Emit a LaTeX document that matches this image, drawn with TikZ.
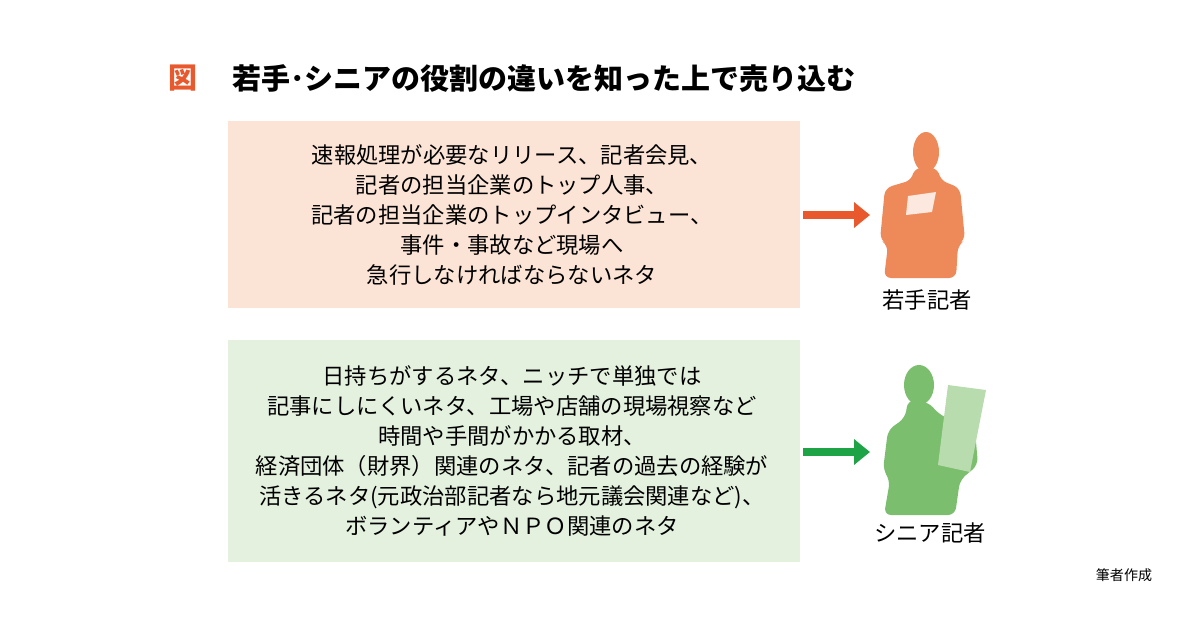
\documentclass[tikz,border=0pt]{standalone}
\usepackage{fontspec}
\setmainfont{Noto Sans CJK JP}
\begin{document}
\begin{tikzpicture}[x=0.02cm,y=-0.02cm,
  txt/.style={font=\fontsize{12.7}{15}\selectfont,align=center},
  arr/.style={line width=5pt,-{Triangle[length=9pt,width=14pt]}}]
\usetikzlibrary{arrows.meta}
\useasboundingbox (0,0) rectangle (1200,630);
\definecolor{peach}{HTML}{FBE3D5}\definecolor{mint}{HTML}{E3F1DE}
\definecolor{ored}{HTML}{E85A2E}\definecolor{gr}{HTML}{1FA347}
\definecolor{po}{HTML}{EE8A5A}\definecolor{pg}{HTML}{7BBE6E}\definecolor{pgl}{HTML}{B9DCAF}
\node[font=\fontsize{16.5}{18}\bfseries\selectfont,text=ored] (zu) at (183,78) {図};
\node[font=\fontsize{16.5}{18}\bfseries\selectfont,anchor=west] (title) at (226,78) {若手･シニアの役割の違いを知った上で売り込む};
\node[fill=peach,minimum width=572*0.02cm,minimum height=187*0.02cm] (b1) at (514,214.5) {};
\node[fill=mint,minimum width=572*0.02cm,minimum height=222*0.02cm] (b2) at (514,451) {};
\node[txt] (t1) at (512,215) {速報処理が必要なリリース、記者会見、\\[2pt]記者の担当企業のトップ人事、\\[2pt]記者の担当企業のトップインタビュー、\\[2pt]事件・事故など現場へ\\[2pt]急行しなければならないネタ};
\node[txt] (t2) at (512,451) {日持ちがするネタ、ニッチで単独では\\[2pt]記事にしにくいネタ、工場や店舗の現場視察など\\[2pt]時間や手間がかかる取材、\\[2pt]経済団体（財界）関連のネタ、記者の過去の経験が\\[2pt]活きるネタ(元政治部記者なら地元議会関連など)、\\[2pt]ボランティアやＮＰＯ関連のネタ};
% person 1
\coordinate (p1) at (870,215);
\fill[po] (926,152) ellipse (13 and 20);
\fill[po,rounded corners=4pt] (914,168) -- (938,168) -- (940,180) -- (960,188) -- (965,240) -- (958,245) -- (956,278) -- (884,278) -- (888,245) -- (880,240) -- (885,188) -- (912,180) -- cycle;
\fill[white!80!po] (908,196) -- (936,192) -- (932,212) -- (906,215) -- cycle;
% person 2
\coordinate (p2) at (870,452);
\fill[pg] (919,385) ellipse (15 and 20);
\fill[pg,rounded corners=4pt] (908,400) -- (928,402) -- (940,415) -- (975,430) -- (978,465) -- (960,480) -- (955,515) -- (884,515) -- (890,480) -- (883,470) -- (888,430) -- (905,418) -- cycle;
\fill[pgl] (948,385) -- (986,390) -- (970,472) -- (938,465) -- cycle;
\draw[arr,ored] (803,215) -- (p1);
\draw[arr,gr] (803,452) -- (p2);
\node[font=\fontsize{12.7}{15}\selectfont] (l1) at (927,300) {若手記者};
\node[font=\fontsize{12.7}{15}\selectfont] (l2) at (930,533) {シニア記者};
\node[font=\fontsize{8}{10}\selectfont] (src) at (1124,575) {筆者作成};
\end{tikzpicture}
\end{document}
